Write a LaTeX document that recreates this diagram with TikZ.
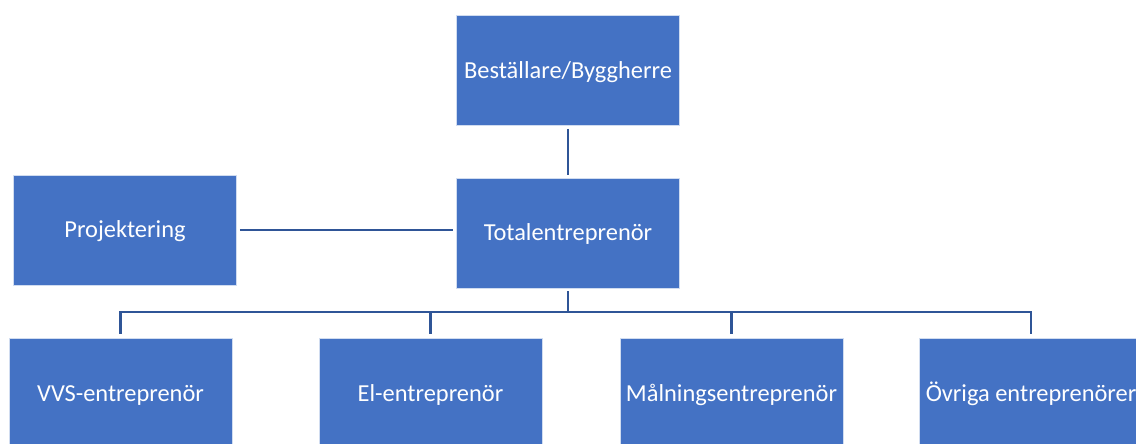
\documentclass[tikz,border=0pt]{standalone}
\usepackage{fontspec}
\setmainfont{Carlito}
\definecolor{boxblue}{HTML}{4472C4}
\definecolor{lineblue}{HTML}{2F5597}
\begin{document}
\begin{tikzpicture}[x=1bp,y=-1bp,
  box/.style={rectangle, fill=boxblue, draw=white!75!boxblue, line width=0.8bp,
    minimum width=223bp, minimum height=110bp, inner sep=0pt, text=white,
    text height=19.6bp, text depth=4.2bp,
    font=\fontsize{24.5}{29}\selectfont},
  conn/.style={draw=lineblue, line width=2.2bp, line join=miter}]
\useasboundingbox (0,0) rectangle (1136,444);
\clip (0,0) rectangle (1136,444);
\node[box] (b) at (568,70.5) {Beställare/Byggherre};
\node[box] (t) at (568,233) {Totalentreprenör};
\node[box] (p) at (125,230) {Projektering};
\node[box, minimum height=111bp] (vvs) at (120.5,393.5) {VVS-entreprenör};
\node[box, minimum height=111bp] (el) at (430.5,393.5) {El-entreprenör};
\node[box, minimum height=111bp] (mal) at (731.5,393.5) {Målningsentreprenör};
\node[box, minimum height=111bp] (ov) at (1031,393.5) {Övriga entreprenörer};
\path (t.south) ++(0,24) coordinate (bus);
\draw[conn, shorten <=3bp, shorten >=3bp] (b.south) -- (t.north);
\draw[conn, shorten <=3bp, shorten >=3bp] (p.east) -- (p.east -| t.west);
\draw[conn, shorten <=3bp] (t.south) -- (bus);
\draw[conn, shorten <=4bp, shorten >=4bp] (vvs.north) |- (bus) -| (ov.north);
\draw[conn, shorten <=4bp] (el.north) -- (el.north |- bus);
\draw[conn, shorten <=4bp] (mal.north) -- (mal.north |- bus);
\end{tikzpicture}
\end{document}
